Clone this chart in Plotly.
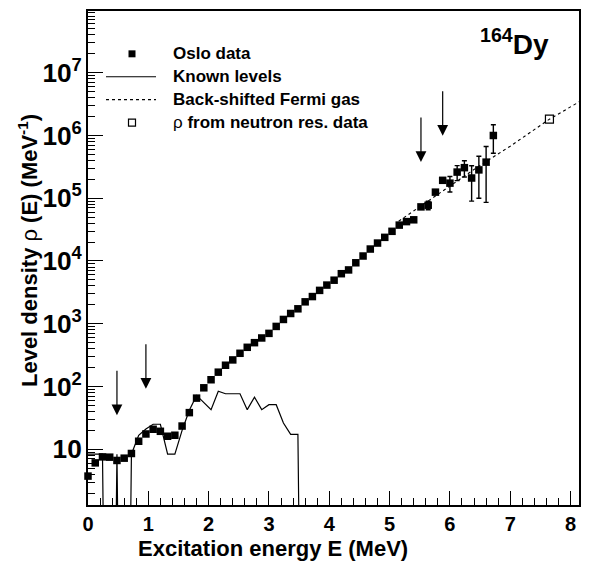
import plotly.graph_objects as go
import math

# ---------------- data ----------------
E_oslo = [0.00, 0.12, 0.24, 0.36, 0.48, 0.60, 0.72, 0.84, 0.96, 1.08,
          1.20, 1.32, 1.44, 1.56, 1.68, 1.80, 1.92, 2.04, 2.16, 2.28,
          2.40, 2.52, 2.64, 2.76, 2.88, 3.00, 3.12, 3.24, 3.36, 3.48,
          3.60, 3.72, 3.84, 3.96, 4.08, 4.20, 4.32, 4.44, 4.56, 4.68,
          4.80, 4.92, 5.04, 5.16, 5.28, 5.40, 5.52, 5.64, 5.76, 5.88,
          6.00, 6.12, 6.24, 6.36, 6.48, 6.60, 6.72]
rho_oslo = [3.73, 6.06, 7.55, 7.47, 6.62, 7.2, 8.55, 13.4, 17.5, 20.8,
            19.3, 16.1, 16.7, 23.4, 38.3, 65.2, 95.2, 128, 169, 218,
            265, 338, 421, 499, 593, 702, 906, 1170, 1456, 1729,
            2233, 2710, 3400, 4130, 4940, 6270, 7200, 9360, 12000, 15500,
            19300, 23800, 29700, 37300, 42400, 45300, 72800, 77400, 125000, 193000,
            174000, 261000, 307000, 210000, 283000, 376000, 1000000]
err_oslo = [0] * 47 + [12000, 0, 0, 48000, 70000, 89000, 120000, 183000, 290000, 480000]

E_known = [0.00, 0.12, 0.24, 0.36, 0.48, 0.60, 0.72, 0.84, 0.96, 1.08,
           1.20, 1.32, 1.44, 1.56, 1.68, 1.80, 1.92, 2.04, 2.16, 2.28,
           2.40, 2.52, 2.64, 2.76, 2.88, 3.00, 3.12, 3.24, 3.36, 3.48, 3.60]
rho_known = [8.33, 8.33, 8.33, 0, 8.33, 0, 8.33, 16.7, 21, 25,
             25, 8.33, 8.33, 20, 41.7, 72, 55.7, 42.7, 84, 76.5,
             76.5, 76.5, 42.7, 67.6, 42.7, 51.3, 51.3, 26.1, 17.3, 17.3, 0]

E_bsfg = [5.15, 5.8, 6.5, 7.0, 7.65, 8.15]
rho_bsfg = [43000, 115000, 334000, 675000, 1820000, 3470000]

E_neutron = [7.65]
rho_neutron = [1820000]

arrow_E = [0.48, 0.96, 5.52, 5.88]
arrow_rho = [34.7, 91.8, 377000, 990000]

x_ticks = [0, 1, 2, 3, 4, 5, 6, 7, 8]

legend_labels = ["<b>Oslo data</b>", "<b>Known levels</b>",
                 "<b>Back-shifted Fermi gas</b>", "ρ <b>from neutron res. data</b>"]

# ---------------- layout helpers ----------------
W, H = 595, 564
L, R, T, B = 88, 16, 9, 59
PW, PH = W - L - R, H - T - B
FONT = "Liberation Sans, Arial, sans-serif"


def px(xp):
    return (xp - L) / PW


def py(yp):
    return (H - B - yp) / PH


fig = go.Figure()

# known levels (zero bins drawn as drops to the axis floor)
fig.add_trace(go.Scatter(
    x=E_known, y=[v if v > 0 else 1e-9 for v in rho_known],
    mode="lines", line=dict(color="black", width=1.2),
    showlegend=False, hoverinfo="skip"))

# back-shifted Fermi gas
fig.add_trace(go.Scatter(
    x=E_bsfg, y=rho_bsfg, mode="lines",
    line=dict(color="black", width=1.1, dash="3px,3px"),
    showlegend=False, hoverinfo="skip"))

# neutron resonance point
fig.add_trace(go.Scatter(
    x=E_neutron, y=rho_neutron, mode="markers",
    marker=dict(symbol="square-open", size=8, color="black", line=dict(width=1.2)),
    showlegend=False, cliponaxis=False))

# Oslo data
fig.add_trace(go.Scatter(
    x=E_oslo, y=rho_oslo, mode="markers",
    marker=dict(symbol="square", size=7.5, color="black"),
    error_y=dict(type="data", array=err_oslo, visible=True,
                 color="black", thickness=1.4, width=2.5),
    showlegend=False, cliponaxis=False))

annotations = []
# arrows
for e, r in zip(arrow_E, arrow_rho):
    annotations.append(dict(
        x=e, y=math.log10(r), xref="x", yref="y",
        ax=0, ay=-46, showarrow=True, arrowhead=2, arrowsize=1.8,
        arrowwidth=1.2, arrowcolor="black", text="", standoff=0))

# axis titles
annotations.append(dict(
    x=px(273), y=py(549), xref="paper", yref="paper",
    text="<b>Excitation energy E (MeV)</b>", showarrow=False,
    font=dict(family=FONT, size=22, color="black"),
    xanchor="center", yanchor="middle"))
annotations.append(dict(
    x=px(28), y=py(250), xref="paper", yref="paper",
    text="<b>Level density</b> ρ <b>(E) (MeV<sup>-1</sup>)</b>", showarrow=False,
    textangle=-90,
    font=dict(family=FONT, size=22, color="black"),
    xanchor="center", yanchor="middle"))

# nucleus label
annotations.append(dict(
    x=px(551), y=py(40), xref="paper", yref="paper",
    text="<b><sup>164</sup>Dy</b>", showarrow=False,
    font=dict(family=FONT, size=28, color="black"),
    xanchor="right", yanchor="middle"))

# manual legend
leg_y = [52, 75, 98, 121]
for lab, yy in zip(legend_labels, leg_y):
    annotations.append(dict(
        x=px(171), y=py(yy), xref="paper", yref="paper",
        text=lab, showarrow=False,
        font=dict(family=FONT, size=17, color="black"),
        xanchor="left", yanchor="middle"))

shapes = []
# legend samples
shapes.append(dict(type="rect", xref="paper", yref="paper",
                   x0=px(128.5), x1=px(135.5), y0=py(55.5), y1=py(48.5),
                   fillcolor="black", line=dict(width=0)))
shapes.append(dict(type="line", xref="paper", yref="paper",
                   x0=px(106), x1=px(156), y0=py(leg_y[1]), y1=py(leg_y[1]),
                   line=dict(color="black", width=1.2)))
shapes.append(dict(type="line", xref="paper", yref="paper",
                   x0=px(106), x1=px(156), y0=py(leg_y[2]), y1=py(leg_y[2]),
                   line=dict(color="black", width=1.1, dash="3px,3px")))
shapes.append(dict(type="rect", xref="paper", yref="paper",
                   x0=px(128.5), x1=px(135.5), y0=py(leg_y[3] + 3.5), y1=py(leg_y[3] - 3.5),
                   fillcolor="white", line=dict(color="black", width=1.2)))

fig.update_layout(
    width=W, height=H,
    margin=dict(l=L, r=R, t=T, b=B, pad=0),
    paper_bgcolor="white", plot_bgcolor="white",
    showlegend=False,
    annotations=annotations, shapes=shapes,
    font=dict(family=FONT, color="black"),
)

fig.update_xaxes(
    range=[0, 8.14], showgrid=False, zeroline=False,
    showline=True, linewidth=2, linecolor="black", mirror=True,
    ticks="inside", ticklen=14, tickwidth=1, tickcolor="black",
    tickmode="array", tickvals=x_ticks, ticktext=[f"<b>{t}</b>" for t in x_ticks],
    tickfont=dict(family=FONT, size=20, color="black"),
    minor=dict(ticks="inside", ticklen=7, tickwidth=1, tickcolor="black", dtick=0.2, tick0=0),
)

fig.update_yaxes(
    type="log", range=[0.111, 7.984], showgrid=False, zeroline=False,
    showline=True, linewidth=2, linecolor="black", mirror=True,
    ticks="inside", ticklen=15, tickwidth=1, tickcolor="black",
    dtick=1, exponentformat="power",
    tickfont=dict(family=FONT, size=21, color="black", weight="bold"),
    minor=dict(ticks="inside", ticklen=7, tickwidth=1, tickcolor="black", dtick="D1"),
)

fig.write_html("out.html")
